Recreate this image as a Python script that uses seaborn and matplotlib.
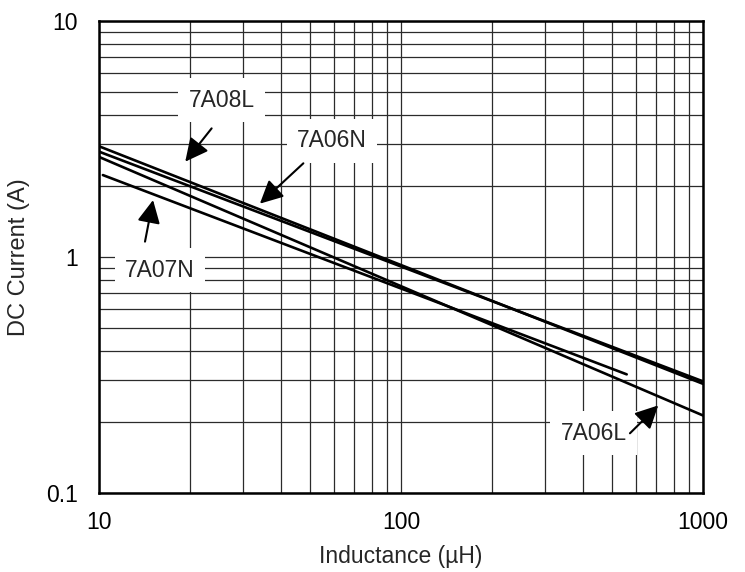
"""DC current vs inductance for the 7A series inductors."""
import matplotlib

matplotlib.use("Agg")
import matplotlib.pyplot as plt
import pandas as pd
import seaborn as sns

# curves (end points, log-log straight lines)
parts = ["7A08L", "7A06N", "7A06L", "7A07N"]
inductance = {
    "7A08L": [10, 1000],
    "7A06N": [10, 1000],
    "7A06L": [10, 1000],
    "7A07N": [10.3, 559],
}
current = {
    "7A08L": [2.94, 0.29],
    "7A06N": [2.79, 0.297],
    "7A06L": [2.65, 0.213],
    "7A07N": [2.22, 0.318],
}

# label text position, arrow tail, arrow tip (data coords)
label_pos = {
    "7A08L": ((25.5, 4.61), (23.6, 3.50), (19.3, 2.53)),
    "7A06N": ((59.0, 3.10), (47.5, 2.49), (34.1, 1.68)),
    "7A07N": ((15.9, 0.878), (14.2, 1.16), (15.1, 1.74)),
    "7A06L": ((435, 0.179), (573, 0.179), (711, 0.235)),
}

df = pd.concat(
    [pd.DataFrame({"L": inductance[p], "I": current[p], "part": p}) for p in parts],
    ignore_index=True,
)

sns.set_theme(style="white")
plt.rcParams["font.family"] = ["Liberation Sans", "DejaVu Sans"]

fig = plt.figure(figsize=(7.45, 5.72), dpi=100)
ax = fig.add_axes([0.1329, 0.1381, 0.8107, 0.8257])

sns.lineplot(data=df, x="L", y="I", hue="part", palette=["black"] * 4,
             legend=False, lw=1.9, sort=False, ax=ax, zorder=3)

ax.set_xscale("log")
ax.set_yscale("log")
ax.set_xlim(10, 1000)
ax.set_ylim(0.1, 10)
ax.set_xticks([10, 100, 1000])
ax.set_xticklabels(["10", "100", "1000"])
ax.set_yticks([0.1, 1, 10])
ax.set_yticklabels(["0.1", "1", "10"])

ax.grid(True, which="both", color="#2b2b2b", lw=0.9)
ax.tick_params(which="both", length=0, labelsize=16.5, colors="black")
ax.tick_params(axis="x", pad=13)
ax.tick_params(axis="y", pad=15)
for s in ax.spines.values():
    s.set_color("black")
    s.set_linewidth(1.8)

ax.set_xlabel("Inductance (µH)", fontsize=16.5, labelpad=8)
ax.set_ylabel("DC Current (A)", fontsize=17, labelpad=12)

for p in parts:
    txt, tail, tip = label_pos[p]
    ax.text(txt[0], txt[1], p, fontsize=16.5, ha="center", va="center", zorder=5,
            bbox=dict(boxstyle="square,pad=0.45", facecolor="white", edgecolor="none"))
    ax.annotate("", xy=tip, xytext=tail, zorder=6,
                arrowprops=dict(arrowstyle="-|>,head_length=0.7,head_width=0.35",
                                mutation_scale=20, lw=1.5, color="black",
                                shrinkA=0, shrinkB=0))

fig.savefig("out.png", dpi=100)
